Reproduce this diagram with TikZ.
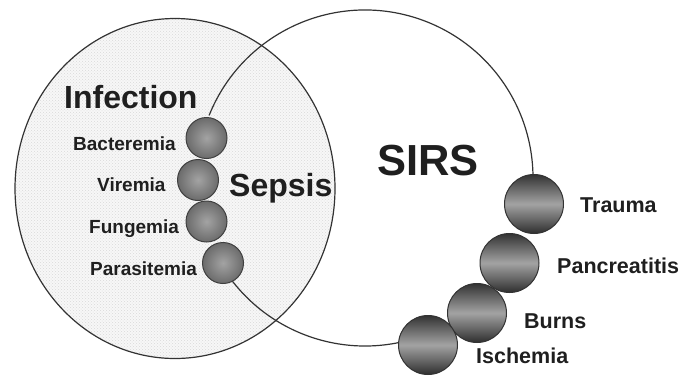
\documentclass[tikz,border=0pt]{standalone}
\usepackage{fontspec}
\setmainfont{Liberation Sans}
\usetikzlibrary{patterns}
\begin{document}
\begin{tikzpicture}[x=1pt,y=-1pt,
  outl/.style={draw=black!80, line width=1.2pt},
  lball/.style={circle, draw=black!75, line width=1pt, minimum size=41pt, inner sep=0pt, shading=radial, inner color=black!36, outer color=black!58},
  rball/.style={circle, draw=black!80, line width=1pt, minimum size=59pt, inner sep=0pt, top color=black!80, bottom color=black!82, middle color=black!36},
  slab/.style={anchor=base west, font=\bfseries\fontsize{19}{19}\selectfont, text=black!88, inner sep=0pt},
  rlab/.style={anchor=base west, font=\bfseries\fontsize{21.5}{21.5}\selectfont, text=black!88, inner sep=0pt},
  biglab/.style={anchor=base west, font=\bfseries\fontsize{32}{32}\selectfont, text=black!88, inner sep=0pt}
]
\useasboundingbox (0,0) rectangle (682,375);
% Infection set
\coordinate (ic) at (175,188.5);
\fill[black!3] (ic) ellipse [x radius=160, y radius=170];
\fill[pattern=crosshatch dots, pattern color=black!15] (ic) ellipse [x radius=160, y radius=170];
\draw[outl] (ic) ellipse [x radius=160, y radius=170];
% SIRS set
\coordinate (sc) at (365,178);
\draw[outl] (sc) ++(201.9:168) arc [start angle=201.9, end angle=365, radius=168];
\draw[outl] (sc) ++(75:168) arc [start angle=75, end angle=145, radius=168];
% infection balls
\node[lball] (b1) at (206.5,138) {};
\node[lball] (b2) at (198,180) {};
\node[lball] (b3) at (206.5,221.5) {};
\node[lball] (b4) at (223,263) {};
% SIRS balls
\node[rball] (r1) at (534,204) {};
\node[rball] (r2) at (509.5,263) {};
\node[rball] (r3) at (477,313) {};
\node[rball] (r4) at (428,345) {};
% labels
\node[biglab] (inf) at (64,108) {Infection};
\node[biglab] (sep) at (229,196) {Sepsis};
\node[biglab, font=\bfseries\fontsize{43.5}{43.5}\selectfont] (sirs) at (377,175) {SIRS};
\node[slab] (l1) at (73,150.5) {Bacteremia};
\node[slab] (l2) at (97,191.5) {Viremia};
\node[slab] (l3) at (89,233.5) {Fungemia};
\node[slab] (l4) at (90,275.5) {Parasitemia};
\node[rlab] (t1) at (580,212) {Trauma};
\node[rlab] (t2) at (557,273) {Pancreatitis};
\node[rlab] (t3) at (524,328) {Burns};
\node[rlab] (t4) at (476,363) {Ischemia};
\end{tikzpicture}
\end{document}
